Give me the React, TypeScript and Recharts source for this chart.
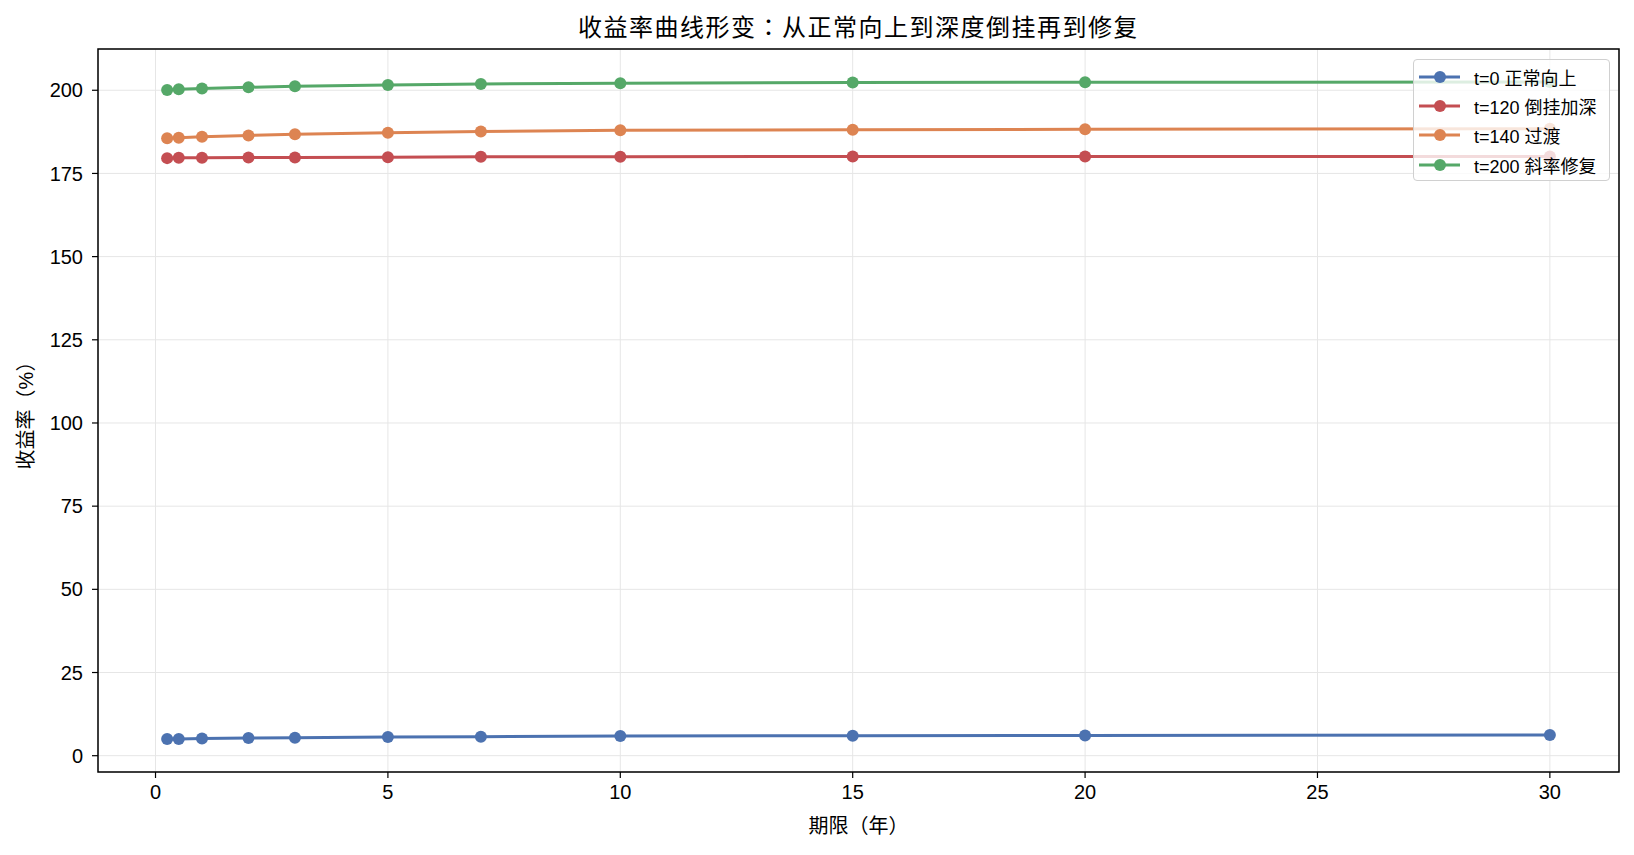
import { LineChart, Line, XAxis, YAxis, CartesianGrid, ReferenceArea } from 'recharts'

const tenors = [0.25, 0.5, 1, 2, 3, 5, 7, 10, 15, 20, 30]
const normal = [5.0, 5.05, 5.2, 5.3, 5.4, 5.6, 5.7, 5.9, 6.0, 6.1, 6.2]
const inverted = [179.6, 179.7, 179.7, 179.8, 179.8, 179.9, 180.0, 180.0, 180.1, 180.1, 180.1]
const transition = [185.6, 185.7, 186.0, 186.4, 186.8, 187.2, 187.6, 188.0, 188.1, 188.3, 188.4]
const repaired = [200.1, 200.3, 200.5, 200.9, 201.2, 201.6, 201.9, 202.1, 202.3, 202.4, 202.5]
const xTicks = [0, 5, 10, 15, 20, 25, 30]
const yTicks = [0, 25, 50, 75, 100, 125, 150, 175, 200]

const series = [
  { key: 'normal', name: 't=0 正常向上', color: '#4c72b0' },
  { key: 'inverted', name: 't=120 倒挂加深', color: '#c44e52' },
  { key: 'transition', name: 't=140 过渡', color: '#dd8452' },
  { key: 'repaired', name: 't=200 斜率修复', color: '#55a868' },
]

const data = tenors.map((t, i) => ({
  t,
  normal: normal[i],
  inverted: inverted[i],
  transition: transition[i],
  repaired: repaired[i],
}))

const FONT = "'Liberation Sans', Arial, 'Noto Sans CJK TC', 'Noto Sans CJK SC', sans-serif"
const X_DOMAIN = [-1.2375, 31.4875]
const Y_DOMAIN = [-4.9, 212.4]

function LegendBox() {
  return (
    <div
      style={{
        position: 'absolute',
        left: 1413,
        top: 59,
        width: 197,
        height: 122,
        boxSizing: 'border-box',
        background: 'rgba(255,255,255,0.8)',
        border: '1px solid #d0d0d0',
        borderRadius: 4,
        paddingTop: 2,
        fontFamily: FONT,
        fontSize: 18,
        color: '#000',
      }}
    >
      {series.map((s) => (
        <div key={s.key} style={{ display: 'flex', alignItems: 'center', height: 29.4 }}>
          <svg width={60} height={14} style={{ flex: 'none' }}>
            <line x1={5} y1={7} x2={46} y2={7} stroke={s.color} strokeWidth={3} />
            <circle cx={26} cy={7} r={6} fill={s.color} />
          </svg>
          <span style={{ whiteSpace: 'nowrap' }}>{s.name}</span>
        </div>
      ))}
    </div>
  )
}

export default function App() {
  return (
    <div style={{ width: 1634, height: 855, position: 'relative', background: '#fff', fontFamily: FONT }}>
      <style>{'body{margin:0}'}</style>
      <div
        style={{
          position: 'absolute',
          top: 8,
          left: 98,
          width: 1521,
          textAlign: 'center',
          fontSize: 24,
          letterSpacing: 1.5,
          color: '#000',
        }}
      >
        收益率曲线形变：从正常向上到深度倒挂再到修复
      </div>
      <LineChart
        width={1634}
        height={855}
        data={data}
        margin={{ top: 49, right: 15, left: 0, bottom: 0 }}
      >
        <CartesianGrid stroke="#e6e6e6" strokeWidth={1} />
        <XAxis
          dataKey="t"
          type="number"
          domain={X_DOMAIN}
          ticks={xTicks}
          allowDataOverflow
          height={83}
          axisLine={false}
          tickLine={{ stroke: '#000', strokeWidth: 1.2 }}
          tickSize={6}
          tickMargin={7}
          tick={{ fill: '#000', fontSize: 20, fontFamily: FONT }}
          label={{ value: '期限（年）', position: 'insideBottom', offset: 22, fill: '#000', fontSize: 20, fontFamily: FONT }}
        />
        <YAxis
          type="number"
          domain={Y_DOMAIN}
          ticks={yTicks}
          allowDataOverflow
          width={98}
          axisLine={false}
          tickLine={{ stroke: '#000', strokeWidth: 1.2 }}
          tickSize={6}
          tickMargin={9}
          tick={{ fill: '#000', fontSize: 20, fontFamily: FONT }}
          label={{ value: '收益率（%）', angle: -90, position: 'insideLeft', offset: 26, fill: '#000', fontSize: 20, fontFamily: FONT, style: { textAnchor: 'middle' } }}
        />
        <ReferenceArea
          x1={X_DOMAIN[0]}
          x2={X_DOMAIN[1]}
          y1={Y_DOMAIN[0]}
          y2={Y_DOMAIN[1]}
          fill="none"
          stroke="#000"
          strokeWidth={1.5}
          ifOverflow="visible"
        />
        {series.map((s) => (
          <Line
            key={s.key}
            dataKey={s.key}
            name={s.name}
            type="linear"
            stroke={s.color}
            strokeWidth={3}
            dot={{ r: 6, fill: s.color, stroke: s.color, strokeWidth: 0 }}
            activeDot={false}
            isAnimationActive={false}
          />
        ))}
      </LineChart>
      <LegendBox />
    </div>
  )
}
